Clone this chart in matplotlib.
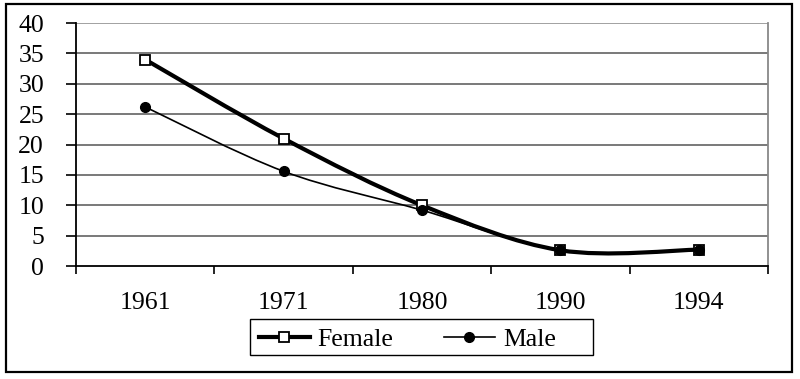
import matplotlib
matplotlib.use('Agg')
import matplotlib.pyplot as plt
from matplotlib.path import Path
from matplotlib.patches import PathPatch, Rectangle
from matplotlib.lines import Line2D
import numpy as np

years = ['1961', '1971', '1980', '1990', '1994']
female = [34, 21, 10, 2.6, 2.7]
male = [26.2, 15.6, 9.2, 2.6, 2.7]


def smooth_path(xs, ys):
    # Excel-style smoothed line: Catmull-Rom segments as cubic Bezier curves
    pts = np.column_stack([xs, ys]).astype(float)
    n = len(pts)
    verts = [pts[0]]
    codes = [Path.MOVETO]
    for i in range(n - 1):
        p0 = pts[i - 1] if i > 0 else pts[i]
        p1 = pts[i]
        p2 = pts[i + 1]
        p3 = pts[i + 2] if i + 2 < n else pts[i + 1]
        c1 = p1 + (p2 - p0) / 6.0
        c2 = p2 - (p3 - p1) / 6.0
        verts += [c1, c2, p2]
        codes += [Path.CURVE4] * 3
    return Path(verts, codes)


plt.rcParams['font.family'] = 'Liberation Serif'
fs = 18.5
fig = plt.figure(figsize=(8, 3.79), dpi=100)
ax = fig.add_axes([0.095, 0.298, 0.865, 0.641])

x = np.arange(len(years))
ax.set_xlim(-0.5, len(years) - 0.5)
ax.set_ylim(0, 40)

for y in range(5, 41, 5):
    ax.axhline(y, color='#555555' if y < 40 else '#888888', lw=1.1, zorder=1)

ax.add_patch(PathPatch(smooth_path(x, female), fill=False, ec='black', lw=3.0, zorder=3))
ax.add_patch(PathPatch(smooth_path(x, male), fill=False, ec='black', lw=1.2, zorder=3))
ax.plot(x, female, ls='none', marker='s', ms=7, mfc='white', mec='black', mew=1.3, zorder=4)
ax.plot(x, male, ls='none', marker='o', ms=7, mfc='black', mec='black', zorder=5)

ax.set_yticks(range(0, 41, 5))
ax.set_xticks(x)
ax.set_xticklabels(years)
ax.set_xticks(np.arange(-0.5, len(years), 1), minor=True)
ax.tick_params(axis='x', which='major', length=0, pad=19, labelsize=fs)
ax.tick_params(axis='x', which='minor', length=6, width=1.2, direction='out')
ax.tick_params(axis='y', length=7, width=1.2, direction='out', pad=16, labelsize=fs)

for s in ['left', 'bottom']:
    ax.spines[s].set_linewidth(1.3)
    ax.spines[s].set_color('black')
ax.spines['top'].set_visible(False)
ax.spines['right'].set_color('#888888')
ax.spines['right'].set_linewidth(1.3)

handles = [
    Line2D([], [], color='black', lw=3.0, marker='s', ms=7, mfc='white', mec='black', mew=1.3),
    Line2D([], [], color='black', lw=1.2, marker='o', ms=7, mfc='black', mec='black'),
]
leg = fig.legend(handles, ['Female', 'Male'], loc='center', bbox_to_anchor=(0.509, 0.104),
                 ncol=2, frameon=False, fontsize=fs, handlelength=2.0,
                 columnspacing=1.95, borderpad=0, handletextpad=0.3, borderaxespad=0)

# legend box (Excel keeps equal-width columns, so the frame is wider than the entries)
fig.patches.append(Rectangle((250 / 800, 1 - 355 / 379), 343 / 800, 36 / 379, transform=fig.transFigure,
                             fill=False, ec='black', lw=1.0))
# outer chart border
fig.patches.append(Rectangle((6 / 800, 7 / 379), 786 / 800, 368 / 379, transform=fig.transFigure,
                             fill=False, ec='black', lw=1.6))

fig.savefig('out.png', dpi=100)
